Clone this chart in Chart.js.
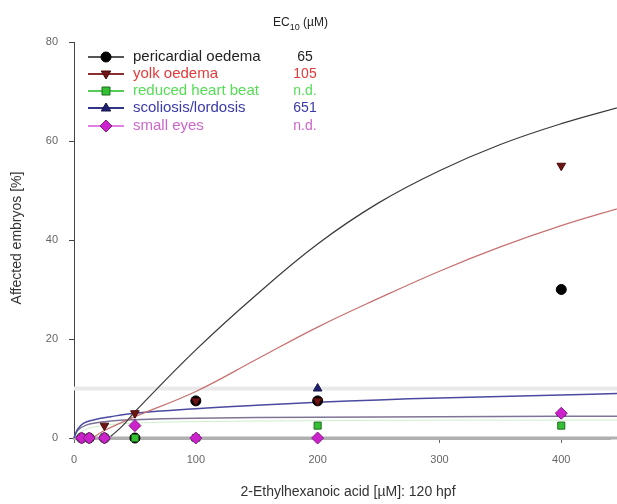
<!DOCTYPE html>
<html>
<head>
<meta charset="utf-8">
<script src="https://cdn.jsdelivr.net/npm/chart.js@4.4.1/dist/chart.umd.min.js"></script>
<style>
  html, body { margin: 0; padding: 0; background: #fff; }
  #wrap { width: 617px; height: 504px; }
</style>
</head>
<body>
<div id="wrap"><canvas id="c" width="617" height="504"></canvas></div>
<script>
// ---- data ----
const concentrations = [6.25, 12.5, 25, 50, 100, 200, 400];
const pericardial   = [0, 0, 0, 0, 7.5, 7.5, 30];
const yolk          = [0, 0, 2.5, 5, 7.5, 7.5, 55];
const heartBeat     = [0, 0, 0, 0, 0, 2.5, 2.5];
const scoliosis     = [0, 0, 0, 0, 0, 10, 5];
const smallEyes     = [0, 0, 0, 2.5, 0, 0, 5];

// fitted curves
const pericardialFitX = [30, 40, 50, 100, 150, 200, 250, 300, 350, 400, 450];
const pericardialFitY = [0.3, 2.5, 5.3, 17.8, 29, 39.2, 47.5, 54, 59.3, 63.5, 67];
const yolkFitX = [15, 25, 50, 100, 150, 200, 250, 300, 350, 400, 450];
const yolkFitY = [0, 1.5, 4.3, 9.4, 15.9, 22.4, 28.2, 33.7, 38.6, 42.9, 46.6];
const scoliosisFitX = [0, 3, 8, 15, 30, 50, 100, 150, 200, 250, 300, 350, 400, 450];
const scoliosisFitY = [0, 1.8, 3, 3.6, 4.3, 5, 5.9, 6.6, 7.2, 7.7, 8.1, 8.4, 8.7, 9.0];
const smallEyesFitX = [0, 3, 10, 25, 50, 100, 200, 300, 400, 450];
const smallEyesFitY = [0, 1.5, 2.6, 3.3, 3.7, 4.0, 4.2, 4.3, 4.4, 4.4];
const heartFitX = [0, 5, 20, 50, 100, 200, 300, 400, 450];
const heartFitY = [0, 1.2, 2.4, 3.0, 3.3, 3.5, 3.6, 3.6, 3.6];
const thresholdY = 10;

const xTicks = [0, 100, 200, 300, 400];
const yTicks = [0, 20, 40, 60, 80];

const legendLabels = ['pericardial oedema', 'yolk oedema', 'reduced heart beat', 'scoliosis/lordosis', 'small eyes'];
const ec10Values   = ['65', '105', 'n.d.', '651', 'n.d.'];

// ---- helpers ----
const pts = (xs, ys) => xs.map((x, i) => ({ x, y: ys[i] }));

const styles = {
  pericardial: { text: '#222222', line: '#555555', fill: '#000000', border: '#000000', shape: 'circle', rot: 0 },
  yolk:        { text: '#e23a3a', line: '#8b3030', fill: '#6e1414', border: '#4a0a0a', shape: 'triangle', rot: 180 },
  heart:       { text: '#55dd55', line: '#55cc55', fill: '#33c033', border: '#1f6a1f', shape: 'rect', rot: 0 },
  scol:        { text: '#3a3aa8', line: '#333388', fill: '#202070', border: '#15154a', shape: 'triangle', rot: 0 },
  eyes:        { text: '#cc66cc', line: '#e080e0', fill: '#cc22cc', border: '#8a1a8a', shape: 'rectRot', rot: 0 }
};
const styleList = [styles.pericardial, styles.yolk, styles.heart, styles.scol, styles.eyes];

function lineDs(data, color, width, order) {
  return { type: 'line', data, borderColor: color, borderWidth: width, pointRadius: 0,
           fill: false, tension: 0.4, clip: false, order };
}
function markerDs(values, st, radius, order) {
  return { type: 'scatter', data: pts(concentrations, values), showLine: false,
           pointStyle: st.shape, rotation: st.rot, pointRadius: radius,
           backgroundColor: st.fill, borderColor: st.border, borderWidth: 1, clip: false, order };
}

// ---- custom text / legend plugin ----
const decor = {
  id: 'decor',
  afterDraw(chart) {
    const ctx = chart.ctx;
    ctx.save();
    // axis titles
    ctx.fillStyle = '#333';
    ctx.font = '14px "Liberation Sans", Arial, sans-serif';
    ctx.textAlign = 'center';
    ctx.textBaseline = 'middle';
    ctx.fillText('2-Ethylhexanoic acid [\u00b5M]: 120 hpf', 348, 492);
    ctx.save();
    ctx.translate(17, 238);
    ctx.rotate(-Math.PI / 2);
    ctx.fillText('Affected embryos [%]', 0, 0);
    ctx.restore();

    // EC10 header
    ctx.textAlign = 'left';
    ctx.fillStyle = '#222';
    ctx.font = '12px "Liberation Sans", Arial, sans-serif';
    ctx.fillText('EC', 273, 23);
    const wEC = ctx.measureText('EC').width;
    ctx.font = '9px "Liberation Sans", Arial, sans-serif';
    ctx.fillText('10', 273 + wEC, 28);
    const w10 = ctx.measureText('10').width;
    ctx.font = '12px "Liberation Sans", Arial, sans-serif';
    ctx.fillText(' (\u00b5M)', 273 + wEC + w10, 23);

    // legend rows
    const rowsY = [57, 74, 91, 108, 126];
    rowsY.forEach((y, i) => {
      const st = styleList[i];
      ctx.strokeStyle = st.line;
      ctx.lineWidth = 2;
      ctx.beginPath(); ctx.moveTo(88, y); ctx.lineTo(124, y); ctx.stroke();
      drawMarker(ctx, st, 106, y, i === 4 ? 6 : 5);
      ctx.fillStyle = st.text;
      ctx.font = '15px "Liberation Sans", Arial, sans-serif';
      ctx.textAlign = 'left';
      ctx.fillText(legendLabels[i], 133, y);
      ctx.textAlign = 'center';
      ctx.font = '14px "Liberation Sans", Arial, sans-serif';
      ctx.fillText(ec10Values[i], 305, y);
    });
    ctx.restore();
  }
};

function drawMarker(ctx, st, x, y, r) {
  ctx.save();
  ctx.fillStyle = st.fill;
  ctx.strokeStyle = st.border;
  ctx.lineWidth = 1;
  ctx.beginPath();
  if (st.shape === 'circle') {
    ctx.arc(x, y, r, 0, Math.PI * 2);
  } else if (st.shape === 'rect') {
    ctx.rect(x - r * 0.8, y - r * 0.8, r * 1.6, r * 1.6);
  } else if (st.shape === 'rectRot') {
    ctx.moveTo(x, y - r); ctx.lineTo(x + r, y); ctx.lineTo(x, y + r); ctx.lineTo(x - r, y); ctx.closePath();
  } else if (st.shape === 'triangle') {
    const s = st.rot === 180 ? -1 : 1;
    ctx.moveTo(x, y - s * r); ctx.lineTo(x + r * 0.95, y + s * r * 0.6); ctx.lineTo(x - r * 0.95, y + s * r * 0.6); ctx.closePath();
  }
  ctx.fill(); ctx.stroke();
  ctx.restore();
}

const tickFont = { family: '"Liberation Sans", Arial, sans-serif', size: 11 };

new Chart(document.getElementById('c'), {
  type: 'scatter',
  data: {
    datasets: [
      lineDs(pts([0, 460], [thresholdY, thresholdY]), '#e9e9e9', 4, 20),
      lineDs(pts([0, 460], [0, 0]), '#b0b0b0', 3, 19),
      lineDs(pts(heartFitX, heartFitY), '#cdeecd', 1, 18),
      lineDs(pts(smallEyesFitX, smallEyesFitY), '#7d7595', 1.5, 17),
      lineDs(pts(scoliosisFitX, scoliosisFitY), '#4a4aa0', 1.5, 16),
      lineDs(pts(yolkFitX, yolkFitY), '#c87070', 1.2, 15),
      lineDs(pts(pericardialFitX, pericardialFitY), '#3a3a3a', 1.2, 14),
      markerDs(scoliosis, styles.scol, 5, 8),
      markerDs(pericardial, styles.pericardial, 5, 7),
      markerDs(yolk, styles.yolk, 5, 6),
      markerDs(heartBeat, styles.heart, 5, 5),
      markerDs(smallEyes, styles.eyes, 6, 4)
    ]
  },
  options: {
    responsive: false,
    devicePixelRatio: 1,
    animation: false,
    layout: { padding: { top: 42, right: 0, left: 0, bottom: 0 } },
    plugins: { legend: { display: false }, tooltip: { enabled: false } },
    scales: {
      x: {
        type: 'linear', min: 0, max: 440,
        afterFit(s) { s.height = 66; s.paddingLeft = 0; s.paddingRight = 0; },
        afterBuildTicks(s) { s.ticks = xTicks.map(v => ({ value: v })); },
        grid: { display: true, drawOnChartArea: false, drawTicks: true, tickLength: 5, color: '#666' },
        border: { display: true, color: '#b0b0b0', width: 3 },
        ticks: { color: '#666', font: tickFont, padding: 10, maxRotation: 0 }
      },
      y: {
        type: 'linear', min: 0, max: 80,
        afterFit(s) { s.width = 74; s.paddingTop = 0; s.paddingBottom = 0; },
        afterBuildTicks(s) { s.ticks = yTicks.map(v => ({ value: v })); },
        grid: { display: true, drawOnChartArea: false, drawTicks: true, tickLength: 5, color: '#444' },
        border: { display: true, color: '#444', width: 1 },
        ticks: { color: '#666', font: tickFont, padding: 11 }
      }
    }
  },
  plugins: [decor]
});
</script>
</body>
</html>
